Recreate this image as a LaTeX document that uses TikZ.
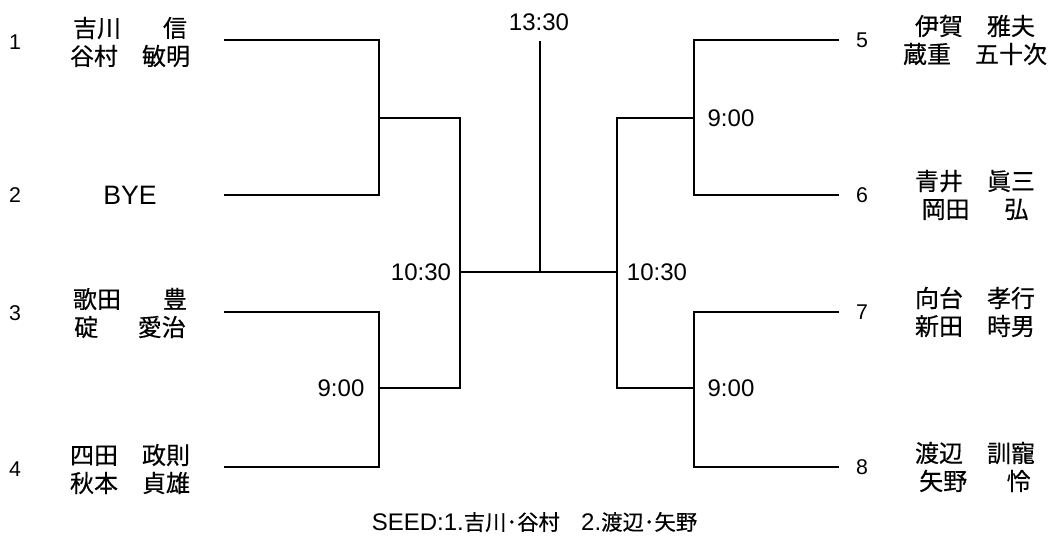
\documentclass[tikz,border=0pt]{standalone}
\usepackage{fontspec}
\setmainfont{Liberation Sans}
\newfontfamily\jpfont[FakeBold=0.4]{Noto Sans CJK JP}
\begin{document}
\begin{tikzpicture}[x=0.75pt,y=-0.75pt,
    nodes={inner sep=0pt},
    bracket/.style={%
        line width=2.2pt, line join=miter},
    player/.style={%
        font=\jpfont\fontsize{18}{21}\selectfont, align=center},
    seednum/.style={%
        font=\fontsize{16}{18}\selectfont},
    matchtime/.style={%
        font=\fontsize{18}{18}\selectfont},
]
    \useasboundingbox (0,0) rectangle (1057,539);
    % Line ends
    \coordinate (l1) at (224,40);
    \coordinate (l2) at (224,195);
    \coordinate (l3) at (224,312);
    \coordinate (l4) at (224,467);
    \coordinate (r5) at (839,40);
    \coordinate (r6) at (839,195);
    \coordinate (r7) at (839,312);
    \coordinate (r8) at (839,467);
    % Joints
    \coordinate (a12) at (379,118);
    \coordinate (a34) at (379,388);
    \coordinate (a56) at (694,118);
    \coordinate (a78) at (694,388);
    \coordinate (semiL) at (460,272);
    \coordinate (semiR) at (617,272);
    \coordinate (final) at (540,272);
    \coordinate (top) at (540,41);
    % Bracket
    \draw[bracket] (l1) -| (a12) |- (l2);
    \draw[bracket] (l3) -| (a34) |- (l4);
    \draw[bracket] (r5) -| (a56) |- (r6);
    \draw[bracket] (r7) -| (a78) |- (r8);
    \draw[bracket] (a12) -| (semiL) |- (a34);
    \draw[bracket] (a56) -| (semiR) |- (a78);
    \draw[bracket] (semiL) -- (semiR);
    \draw[bracket] (final) -- (top);
    % Seed numbers
    \node[seednum] (s1) at (15,42) {1};
    \node[seednum] (s2) at (15,195) {2};
    \node[seednum] (s3) at (15,313) {3};
    \node[seednum] (s4) at (15,469) {4};
    \node[seednum] (s5) at (862,40) {5};
    \node[seednum] (s6) at (862,195) {6};
    \node[seednum] (s7) at (862,312) {7};
    \node[seednum] (s8) at (862,467) {8};
    % Players
    \node[player] (p1) at (130,42) {吉川\hspace{1.75em}信\\谷村　敏明};
    \node[font=\fontsize{20}{20}\selectfont] (p2) at (130,195) {BYE};
    \node[player] (p3) at (130,313) {歌田\hspace{1.75em}豊\\碇\hspace{1.65em}愛治};
    \node[player] (p4) at (130,469) {四田　政則\\秋本　貞雄};
    \node[player] (p5) at (975,40) {伊賀　雅夫\\蔵重　五十次};
    \node[player] (p6) at (975,195) {青井　眞三\\岡田\hspace{1.45em}弘};
    \node[player] (p7) at (975,312) {向台　孝行\\新田　時男};
    \node[player] (p8) at (975,467) {渡辺　訓寵\\矢野\hspace{1.65em}怜};
    % Times
    \node[matchtime] (t12) at (731,118) {9:00};
    \node[matchtime] (t34) at (341,388) {9:00};
    \node[matchtime] (t78) at (731,388) {9:00};
    \node[matchtime] (tL) at (421,272) {10:30};
    \node[matchtime] (tR) at (657,272) {10:30};
    \node[matchtime] (tF) at (539,22) {13:30};
    % Seeds
    \node (seeds) at (534.5,522) {{\fontsize{18}{18}\selectfont SEED:1.}{\jpfont\fontsize{16}{18}\selectfont 吉川･谷村　}{\fontsize{18}{18}\selectfont 2.}{\jpfont\fontsize{16}{18}\selectfont 渡辺･矢野}};
\end{tikzpicture}
\end{document}
